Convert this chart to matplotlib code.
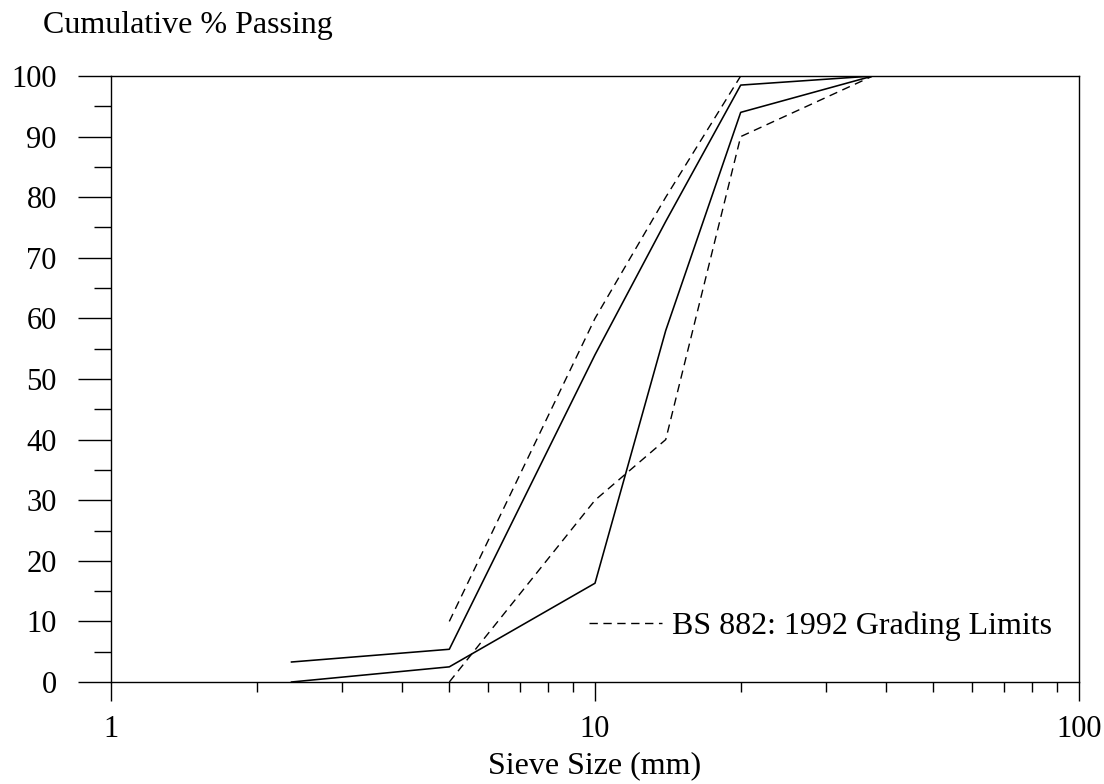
#!/usr/bin/env python3
"""
Grading curve chart: cumulative % passing vs sieve size (log scale),
with BS 882: 1992 grading limits shown dashed.
"""

import matplotlib
matplotlib.use("Agg")
import matplotlib.pyplot as plt
from matplotlib import ticker
from matplotlib.lines import Line2D

# Data
SIEVE_SIZES = [2.36, 5, 10, 14, 20, 37.5]
SAMPLE_A = [3.3, 5.4, 54, 76, 98.5, 100]
SAMPLE_B = [0, 2.5, 16.3, 58, 94, 100]

LIMIT_SIZES = [5, 10, 14, 20, 37.5]
UPPER_LIMIT = [10, 60, 80, 100, 100]
LOWER_LIMIT = [0, 30, 40, 90, 100]

X_TICKS = [1, 10, 100]
X_TICK_LABELS = ["1", "10", "100"]
Y_TICKS = [0, 10, 20, 30, 40, 50, 60, 70, 80, 90, 100]

FONT = "Liberation Serif"
DASHES = (6, 4)


def make_chart(output_path="out.png"):
    """Draw the grading chart and save it"""
    plt.rcParams["font.family"] = [FONT, "DejaVu Serif"]

    fig = plt.figure(figsize=(11.04, 7.84), dpi=100, facecolor="white")
    ax = fig.add_axes([111 / 1104, 1 - 682 / 784, 968 / 1104, 606 / 784])

    # Measured gradings (solid)
    ax.plot(SIEVE_SIZES, SAMPLE_A, color="black", linewidth=1.15)
    ax.plot(SIEVE_SIZES, SAMPLE_B, color="black", linewidth=1.15)

    # Grading limits (dashed)
    for limit in (UPPER_LIMIT, LOWER_LIMIT):
        ax.plot(LIMIT_SIZES, limit, color="black", linewidth=1.0,
                linestyle=(0, DASHES))

    # Axes scales
    ax.set_xscale("log")
    ax.set_xlim(1, 100)
    ax.set_ylim(0, 100)

    ax.xaxis.set_major_locator(ticker.FixedLocator(X_TICKS))
    ax.xaxis.set_major_formatter(ticker.FixedFormatter(X_TICK_LABELS))
    ax.xaxis.set_minor_locator(ticker.LogLocator(base=10, subs=range(2, 10)))
    ax.xaxis.set_minor_formatter(ticker.NullFormatter())

    ax.yaxis.set_major_locator(ticker.FixedLocator(Y_TICKS))
    ax.yaxis.set_minor_locator(ticker.MultipleLocator(5))

    # Tick styling
    ax.tick_params(axis="x", which="major", direction="out", length=14,
                   width=1.0, labelsize=22, pad=10)
    ax.tick_params(axis="x", which="minor", direction="out", length=7.5,
                   width=1.0)
    ax.tick_params(axis="y", which="major", direction="out", length=24,
                   width=1.0, labelsize=22, pad=15)
    ax.tick_params(axis="y", which="minor", direction="out", length=12,
                   width=1.0)

    for spine in ax.spines.values():
        spine.set_color("black")
        spine.set_linewidth(1.0)

    # Labels
    fig.text(43 / 1104, 1 - 26 / 784, "Cumulative % Passing",
             fontsize=23, ha="left", va="center")
    fig.text(ax.get_position().x0 + ax.get_position().width / 2,
             1 - 766 / 784, "Sieve Size (mm)",
             fontsize=23, ha="center", va="center")

    # Legend
    handle = Line2D([], [], color="black", linewidth=1.0,
                    linestyle=(0, DASHES))
    ax.legend([handle], ["BS 882: 1992 Grading Limits"], loc="center right",
              bbox_to_anchor=(0.972, 0.092), frameon=False, fontsize=23,
              handlelength=2.3, handletextpad=0.3, borderpad=0,
              borderaxespad=0)

    fig.savefig(output_path, dpi=100, facecolor="white")
    plt.close(fig)


if __name__ == "__main__":
    make_chart()
